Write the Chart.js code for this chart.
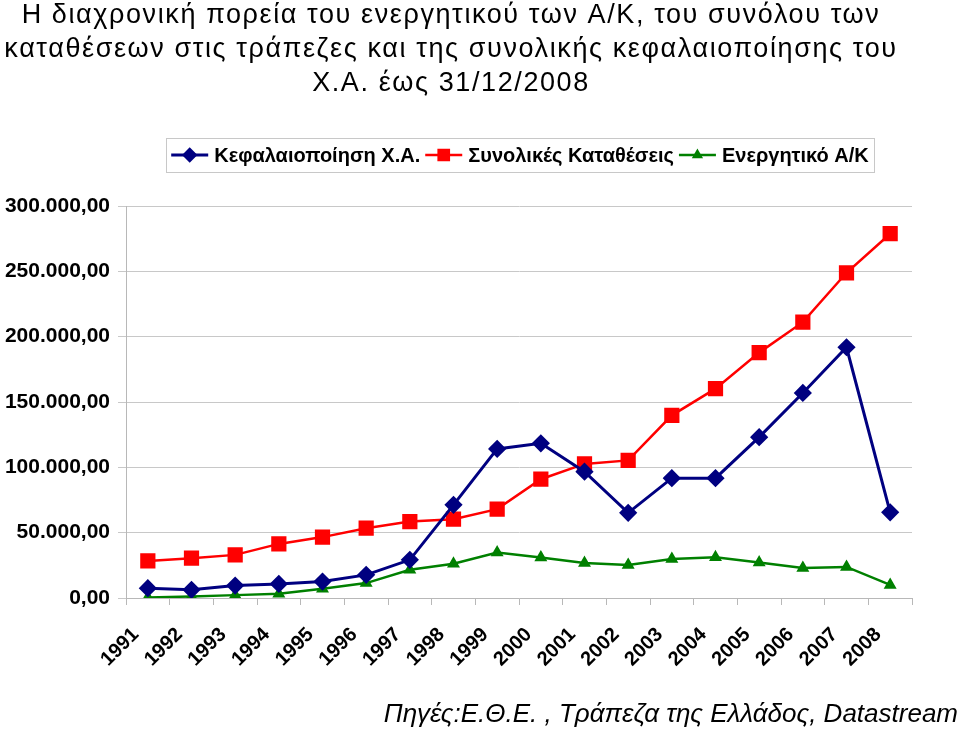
<!DOCTYPE html>
<html>
<head>
<meta charset="utf-8">
<script src="https://cdn.jsdelivr.net/npm/chart.js@4.4.1/dist/chart.umd.min.js"></script>
<style>
  html, body { margin: 0; padding: 0; background: #fff; }
  #wrap { width: 960px; height: 729px; position: relative; }
</style>
</head>
<body>
<div id="wrap"><canvas id="lineChart" width="960" height="729"></canvas></div>
<script>
var years = ['1991', '1992', '1993', '1994', '1995', '1996', '1997', '1998', '1999',
             '2000', '2001', '2002', '2003', '2004', '2005', '2006', '2007', '2008'];

var kefalaiopoiisi = [7500, 6300, 9500, 10800, 12600, 17700, 29200, 71300, 114100,
                      118400, 96700, 65200, 91700, 91700, 123100, 156900, 191900, 65600];

var katatheseis = [28400, 30500, 33000, 41400, 46600, 53400, 58500, 60300, 68000,
                   90900, 102600, 105300, 139800, 160200, 187800, 211100, 248900, 278800];

var energitiko = [400, 1200, 2200, 3200, 7000, 11400, 21600, 26200, 34800,
                  31000, 26700, 25300, 29900, 31100, 27100, 23000, 23800, 10000];

var seriesNames = ['Κεφαλαιοποίηση Χ.Α.', 'Συνολικές Καταθέσεις', 'Ενεργητικό Α/Κ'];

var titleLines = [
    'Η διαχρονική πορεία του ενεργητικού των Α/Κ, του συνόλου των',
    'καταθέσεων στις τράπεζες και της συνολικής κεφαλαιοποίησης του',
    'Χ.Α. έως 31/12/2008'
];
var sourceText = 'Πηγές:Ε.Θ.Ε. , Τράπεζα της Ελλάδος, Datastream';

function greekNumber(v) {
    var s = Math.round(v).toString().replace(/\B(?=(\d{3})+(?!\d))/g, '.');
    return s + ',00';
}

// title, legend box and source note
var decorPlugin = {
    id: 'decor',
    afterDraw: function (chart) {
        var ctx = chart.ctx;
        ctx.save();
        ctx.fillStyle = '#000';
        ctx.textAlign = 'center';
        ctx.textBaseline = 'alphabetic';
        ctx.font = '27px "Liberation Sans", Arial, sans-serif';
        ctx.letterSpacing = '1.6px';
        titleLines.forEach(function (t, i) {
            ctx.fillText(t, 451, 23 + i * 34);
        });
        ctx.letterSpacing = '0px';

        // legend
        ctx.textBaseline = 'middle';
        ctx.font = 'bold 20px "Liberation Sans", Arial, sans-serif';
        var lineLen = 37, gap = 6, itemGap = 5;
        var widths = chart.data.datasets.map(function (ds) {
            return lineLen + gap + ctx.measureText(ds.label).width;
        });
        var total = widths.reduce(function (a, b) { return a + b; }, 0) + itemGap * (widths.length - 1);
        var x = 520 - total / 2, y = 155;
        ctx.strokeStyle = '#c8c8c8';
        ctx.lineWidth = 1;
        ctx.strokeRect(Math.round(x - 5) + 0.5, 138.5, Math.round(total + 10), 34);
        chart.data.datasets.forEach(function (ds, i) {
            ctx.strokeStyle = ds.borderColor;
            ctx.lineWidth = ds.borderWidth;
            ctx.beginPath();
            ctx.moveTo(x, y);
            ctx.lineTo(x + lineLen, y);
            ctx.stroke();
            Chart.helpers.drawPoint(ctx, {
                pointStyle: ds.pointStyle,
                radius: ds.pointRadius * 0.8,
                borderWidth: 1
            }, x + lineLen / 2, y);
            ctx.fillStyle = ds.borderColor;
            ctx.fill();
            ctx.fillStyle = '#000';
            ctx.textAlign = 'left';
            ctx.fillText(ds.label, x + lineLen + gap, y + 1);
            x += widths[i] + itemGap;
        });

        ctx.font = 'italic 26px "Liberation Sans", Arial, sans-serif';
        ctx.textAlign = 'right';
        ctx.textBaseline = 'alphabetic';
        ctx.fillText(sourceText, 958, 722);
        ctx.restore();
    }
};

document.addEventListener('DOMContentLoaded', function () {
    var ctx = document.getElementById('lineChart').getContext('2d');

    new Chart(ctx, {
        type: 'line',
        data: {
            labels: years,
            datasets: [{
                label: seriesNames[0],
                data: kefalaiopoiisi,
                borderColor: '#000080',
                backgroundColor: '#000080',
                borderWidth: 3,
                pointStyle: 'rectRot',
                pointRadius: 7,
                pointHoverRadius: 7
            }, {
                label: seriesNames[1],
                data: katatheseis,
                borderColor: '#ff0000',
                backgroundColor: '#ff0000',
                borderWidth: 2.5,
                pointStyle: 'rect',
                pointRadius: 9,
                pointHoverRadius: 9
            }, {
                label: seriesNames[2],
                data: energitiko,
                borderColor: '#008000',
                backgroundColor: '#008000',
                borderWidth: 2.5,
                pointStyle: 'triangle',
                pointRadius: 5,
                pointHoverRadius: 5
            }]
        },
        options: {
            responsive: false,
            animation: false,
            layout: { padding: { top: 206, right: 48, bottom: 0, left: 0 } },
            plugins: {
                legend: { display: false },
                title: { display: false },
                tooltip: { enabled: false }
            },
            scales: {
                x: {
                    offset: true,
                    grid: {
                        offset: true,
                        drawOnChartArea: false,
                        color: '#b8b8b8',
                        tickLength: 7
                    },
                    border: { color: '#b8b8b8' },
                    ticks: {
                        color: '#000',
                        font: { family: '"Liberation Sans", Arial, sans-serif', size: 20, weight: 'bold' },
                        minRotation: 45,
                        maxRotation: 45,
                        padding: 18,
                        labelOffset: -12,
                        autoSkip: false
                    },
                    afterFit: function (scale) { scale.height = 131; }
                },
                y: {
                    min: 0,
                    max: 300000,
                    ticks: {
                        stepSize: 50000,
                        color: '#000',
                        padding: 8,
                        font: { family: '"Liberation Sans", Arial, sans-serif', size: 21, weight: 'bold' },
                        callback: function (v) { return greekNumber(v); }
                    },
                    grid: { color: '#c8c8c8', tickLength: 8 },
                    border: { color: '#b8b8b8' },
                    afterFit: function (scale) { scale.width = 126; }
                }
            }
        },
        plugins: [decorPlugin]
    });
});
</script>
</body>
</html>
